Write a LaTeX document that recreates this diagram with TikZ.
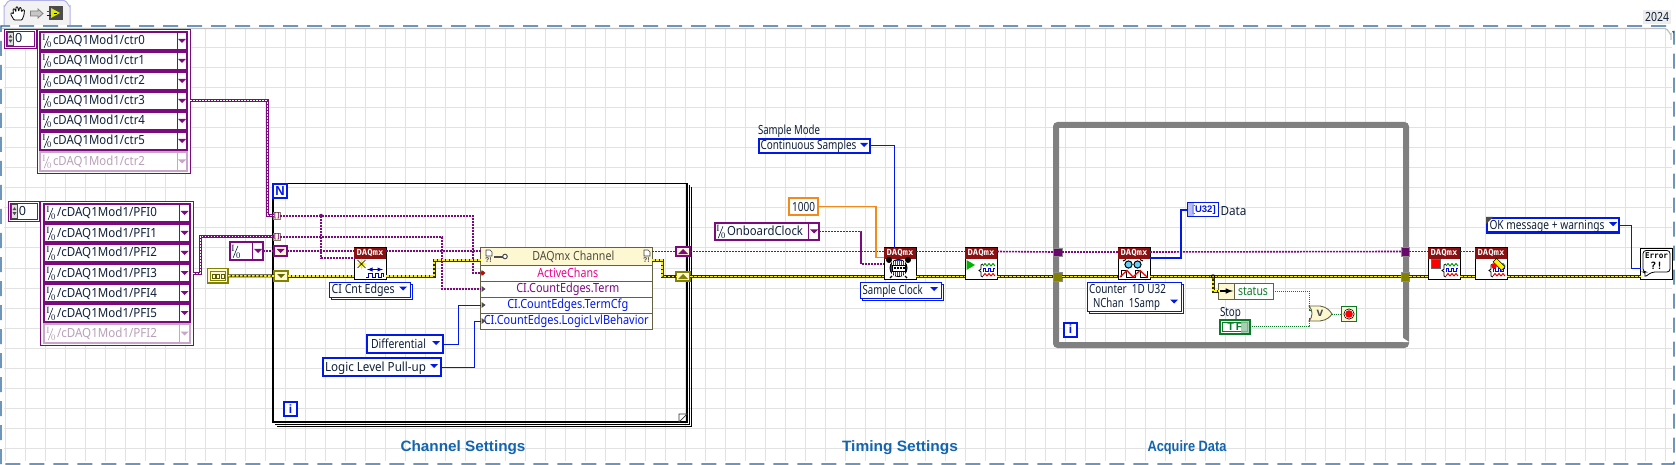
\documentclass[tikz,border=0pt]{standalone}
\usepackage{fontspec}
\usepackage{graphicx}
\setmainfont{Noto Sans}
\newfontfamily\serifio{Liberation Serif}
\newfontfamily\monoio{DejaVu Sans Mono}
\newfontfamily\boldf{Liberation Sans}
\usetikzlibrary{calc}
\definecolor{pur}{HTML}{7B0A7E}
\definecolor{ghostf}{HTML}{C9A6C9}
\definecolor{ghostt}{HTML}{B9A0B9}
\definecolor{enumb}{HTML}{0018E8}
\definecolor{oliv}{HTML}{828200}
\definecolor{pale}{HTML}{FDF8D2}
\definecolor{gridc}{HTML}{E2E2E2}
\definecolor{dashb}{HTML}{1F5F96}
\definecolor{wgray}{HTML}{808080}
\definecolor{oranw}{HTML}{F28A1C}
\definecolor{grnw}{HTML}{0A7A28}
\definecolor{titleb}{HTML}{1265AE}
\definecolor{daqr}{HTML}{8C1010}
\definecolor{txtd}{HTML}{10203A}
\definecolor{errd}{HTML}{2E2E00}
\newsavebox\fwb
\newcommand\fw[2]{\sbox\fwb{#2}\pgfmathsetmacro\fwr{#1/\the\wd\fwb}\scalebox{\fwr}[1]{\usebox\fwb}}
\tikzset{
  base/.style={inner sep=0pt,outer sep=0pt},
  txt/.style={inner sep=0pt,outer sep=0pt,text height=10pt,text depth=2pt,font=\fontsize{12.6}{14}\selectfont,text=txtd},
  taskw/.style={draw=pur,line width=1.6pt,dash pattern=on 2.2pt off .8pt},
  arrw/.style={draw=pur,line width=3pt,postaction={draw=white,line width=1pt,dash pattern=on 1.6pt off 1.4pt}},
  errw/.style={draw=errd,line width=3pt,postaction={draw=yellow,line width=1.6pt,dash pattern=on 2.5pt off 1.5pt}},
  enumw/.style={draw=enumb,line width=1pt},
  oranwire/.style={draw=oranw,line width=1.2pt},
  grnwire/.style={draw=grnw,line width=1pt,dash pattern=on 1pt off 1pt},
  u32w/.style={draw=enumb,line width=2.2pt},
  enumbox/.style={base,fill=white,draw=enumb,line width=2.2pt},
  thinbox/.style={base,fill=white,draw=enumb,line width=1pt},
  srg/.style={base,fill=pale,line width=2pt},
  tun/.style={base,fill=pale,draw=black!60!yellow!60!gray,line width=.9pt,text=pur,font=\boldf\bfseries\fontsize{6.5}{7}\selectfont},
  prow/.style={base,fill=white,draw=black!70!yellow,line width=1pt,font=\fontsize{12.6}{14}\selectfont},
  title/.style={base,font=\boldf\bfseries\fontsize{15}{16}\selectfont,text=titleb},
}
\newcommand\mk[7]{\node[#6,minimum width={#4-#2},minimum height={#5-#3}] (#1) at ({(#2+#4)/2},{(#3+#5)/2}) {#7};}
\newcommand\lt[4][]{\node[txt,anchor=west,#1] (#2t) at ($(#2.west)+(#3,0)$) {#4};}
\newcommand\dna[2][enumb]{\fill[#1] ($(#2)+(-4,-2)$) -- ++(8,0) -- ++(-4,4) -- cycle;}
\newcommand\upa[2][pur]{\fill[#1] ($(#2)+(-5,2.5)$) -- ++(10,0) -- ++(-5,-5) -- cycle;}
\newcommand\iosym{\makebox[11pt][l]{\serifio\rlap{\raisebox{4pt}{\hspace{.4pt}\fontsize{9.5}{9}\selectfont I}}\rlap{\raisebox{-3pt}{\hspace{1.8pt}\rotatebox{68}{\rule{13pt}{.6pt}}}}\rlap{\raisebox{-3pt}{\hspace{5pt}\fontsize{8.5}{9}\selectfont 0}}}}
\newcommand\idxbox[6]{%
  \mk{#1}{#2}{#3}{#4}{#5}{base,fill=white,draw=pur,line width=.9pt}{}
  \draw[pur,line width=.7pt] ($(#1.north west)+(1.5,1.5)$) rectangle ($(#1.south east)+(-1.5,-1.5)$);
  \draw[black!70,fill=black!12,line width=.4pt] ($(#1.north west)+(3,2.5)$) rectangle ($(#1.south west)+(9,-2.5)$);
  \fill[black!70] ($(#1.west)+(6,-1)$) -- ++(-2,0) -- ++(2,-3) -- ++(2,3) -- cycle;
  \fill[black!70] ($(#1.west)+(6,1)$) -- ++(-2,0) -- ++(2,3) -- ++(2,-3) -- cycle;
  \node[txt,anchor=west] (#1t) at ($(#1.west)+(10.5,0)$) {#6};
}
\newcommand\daq[4]{%
  \mk{#1}{#2}{#3}{#2+32}{#3+31.5}{base,fill=white,draw=black,line width=1pt}{}
  \mk{#1h}{#2+.5}{#3+.5}{#2+31.5}{#3+10}{base,fill=daqr,text=white,font=\monoio\bfseries\fontsize{8.4}{8}\selectfont}{\fw{27}{DAQmx}}
  \begin{scope}[shift={(#2,#3)}]#4\end{scope}
}
\newcommand\wavebr{%
  \draw[black,line width=.8pt] (18,16) -- (16,17) -- (16,21) -- (14,22.5) -- (16,24) -- (16,28) -- (18,29);
  \draw[green!60!black,line width=.9pt] (18,18) -- (20,15.5) -- (22,18) -- (24,15.5) -- (26,18) -- (28,15.5) -- (30,18);
  \draw[blue,line width=.9pt] (18,23.5) -- (18,20.5) -- (20.5,20.5) -- (20.5,23.5) -- (23,23.5) -- (23,20.5) -- (25.5,20.5) -- (25.5,23.5) -- (28,23.5) -- (28,20.5) -- (30,20.5);
  \draw[red!90!black,line width=.9pt] (18,28) -- (20,25.5) -- (22,28) -- (24,25.5) -- (26,28) -- (28,25.5) -- (30,28);
}
\begin{document}
\begin{tikzpicture}[x=1pt,y=-1pt]
\useasboundingbox (0,0) rectangle (1676,465);
\fill[white] (0,0) rectangle (1676,465);
% grid
\foreach \gx in {5,25,...,1665} {\draw[gridc,line width=1pt] (\gx,29) -- (\gx,461);}
\foreach \gy in {48,68,...,448} {\draw[gridc,line width=1pt] (4,\gy) -- (1672,\gy);}
\draw[black!25,line width=1.2pt] (2,28.5) -- (1665,28.5) to[out=0,in=-90] (1671,34) -- (1671,40);
% border
\draw[dashb,line width=1.2pt,dash pattern=on 15pt off 9pt] (1,464) -- (1,26) -- (1668,26) to[out=0,in=-90] (1674,32) -- (1674,464) -- cycle;
% version
\mk{ver}{1643}{10}{1671}{24}{base,fill=black!7,font=\fontsize{12.6}{14}\selectfont,text=txtd}{\fw{24}{2024}}
% toolbar
\draw[black!30!blue!30!white,line width=1pt,fill=black!5] (4,25) -- (4,6) to[out=-90,in=180] (10,0.5) -- (64,0.5) to[out=0,in=-90] (70,6) -- (70,25);
\draw[black,line width=.8pt,fill=white,line join=round,rounded corners=.8pt] (14,20) -- (10.5,14) -- (11.5,12.5) -- (13.5,14) -- (13,9) -- (14.5,8.5) -- (16,12) -- (16,7) -- (17.5,6.5) -- (18.8,11.5) -- (19.5,7.5) -- (21,7.5) -- (21.5,12) -- (23,9.5) -- (24.5,10) -- (24,15) -- (22,20) -- cycle;
\draw[black!50,fill=black!22,line width=.8pt] (30.5,11) -- (38,11) -- (38,9) -- (43,13.5) -- (38,18) -- (38,16) -- (30.5,16) -- cycle;
\fill[black!70] (49,6) rectangle (63,20);
\fill[yellow!85!green] (51,8) -- (60,13) -- (51,18) -- cycle;
\draw[red,line width=.7pt] (46.5,11) -- (51,11);
\draw[blue,line width=.7pt] (46.5,15.5) -- (51,15.5);
\draw[black,line width=.5pt] (54,13) -- (57,13);
%
% ARRAY 1
\idxbox{ia}{4.5}{29.5}{36}{48}{0}
\mk{fa}{37}{29.5}{190}{173}{base,fill=white,draw=pur,line width=.9pt}{}
\mk{fai}{39}{31}{188}{151}{base,fill=pur}{}
\mk{fag}{39}{151}{188}{172}{base,fill=ghostf}{}
\foreach \i/\t in {0/0,1/1,2/2,3/3,4/4,5/5} {
  \pgfmathsetmacro\ya{33+20*\i}\pgfmathsetmacro\yb{49+20*\i}
  \mk{c\i}{41}{\ya}{177}{\yb}{base,fill=white}{}
  \mk{cq\i}{178}{\ya}{186}{\yb}{base,fill=white}{}
  \lt{c\i}{1}{\iosym\fw{92}{cDAQ1Mod1/ctr\t}}
  \dna[pur]{cq\i}
}
\mk{c6}{41}{153}{177}{170}{base,fill=white}{}
\mk{cq6}{178}{153}{186}{170}{base,fill=white}{}
\lt[text=ghostt]{c6}{1}{\iosym\fw{92}{cDAQ1Mod1/ctr2}}
\dna[ghostf]{cq6}
% ARRAY 2
\idxbox{ib}{8.5}{201.5}{39}{221}{0}
\mk{fb}{40.5}{201}{193}{345}{base,fill=white,draw=pur,line width=.9pt}{}
\mk{fbi}{42.5}{203}{191}{323}{base,fill=pur}{}
\mk{fbg}{42.5}{323}{191}{344}{base,fill=ghostf}{}
\foreach \i/\t in {0/0,1/1,2/2,3/3,4/4,5/5} {
  \pgfmathsetmacro\ya{205+20*\i}\pgfmathsetmacro\yb{221+20*\i}
  \mk{d\i}{45}{\ya}{179}{\yb}{base,fill=white}{}
  \mk{dq\i}{180}{\ya}{189}{\yb}{base,fill=white}{}
  \lt{d\i}{1}{\iosym\fw{100}{/cDAQ1Mod1/PFI\t}}
  \dna[pur]{dq\i}
}
\mk{d6}{45}{325}{179}{342}{base,fill=white}{}
\mk{dq6}{180}{325}{189}{342}{base,fill=white}{}
\lt[text=ghostt]{d6}{1}{\iosym\fw{100}{/cDAQ1Mod1/PFI2}}
\dna[ghostf]{dq6}
%
% FOR LOOP
\mk{fl}{273}{183.5}{687}{422}{base,draw=black,line width=1.1pt}{}
\draw[black,line width=.8pt] (689,185) -- (689,424) -- (275,424);
\draw[black,line width=.8pt] (691,187) -- (691,426) -- (277,426);
\draw[black!80,fill=white,line width=.7pt] (679,422) -- (679,414) -- (687,414) -- cycle;
\mk{nbox}{273}{184}{287}{198}{base,fill=white,draw=enumb,line width=2pt,text=enumb,font=\boldf\bfseries\fontsize{13}{13}\selectfont}{N}
\mk{ibx}{284}{402}{297}{415.5}{base,fill=white,draw=enumb,line width=2pt,text=enumb,font=\boldf\bfseries\fontsize{12}{12}\selectfont}{i}
% constants left of loop
\mk{ioc}{230}{242}{263}{260}{base,fill=white,draw=pur,line width=2pt}{}
\draw[pur,line width=1pt] (252.5,242) -- (252.5,260);
\lt{ioc}{1}{\iosym}
\dna[pur]{$(ioc.east)+(-5,0)$}
\mk{ecl}{207.5}{268.5}{228}{283}{base,fill=pale,draw=oliv,line width=1.5pt}{}
\draw[oliv,line width=.8pt] (210,271) rectangle (225.5,280.5);
\draw[oliv!70!black,line width=.8pt] (212,274) rectangle (215,278);
\draw[oliv!70!black,line width=.8pt] (216.5,274) rectangle (219.5,278);
\draw[oliv!70!black,line width=.8pt] (221,274) rectangle (224,278);
% tunnels, shift registers
\mk{tn1}{273.5}{212.5}{280}{219}{tun}{[\,]}
\mk{tn2}{273.5}{233.5}{280}{240}{tun}{[\,]}
\mk{sr1}{274}{246}{287}{256}{srg,draw=pur}{}
\dna[pur]{$(sr1)+(0,0)$}
\mk{sr2}{274}{271}{288}{281}{srg,draw=oliv}{}
\dna[oliv!80!black]{$(sr2)+(0,0)$}
\mk{srr1}{676}{247}{690}{256}{srg,draw=pur}{}
\upa[pur]{srr1}
\mk{srr2}{676}{272}{690}{281}{srg,draw=oliv}{}
\upa[oliv]{srr2}
% create channel
\daq{cr}{354}{248}{
  \fill[yellow] (7.5,10.5) -- (9,15) -- (13,16) -- (9,17) -- (7.5,22) -- (6,17) -- (2,16) -- (6,15) -- cycle;
  \draw[black,line width=.6pt] (3.5,12) -- (11.5,20) (11.5,12) -- (3.5,20);
  \draw[blue!70!black,line width=.9pt,<->,>=latex] (13,21.5) -- (29,21.5);
  \draw[blue!70!black,line width=.9pt] (12,29) -- (14,29) -- (14,25) -- (18,25) -- (18,29) -- (21,29) -- (21,25) -- (24,25) -- (24,29) -- (27,29) -- (27,25) -- (29,25) -- (29,29);
}
\mk{crs}{331}{284}{412}{299}{thinbox}{}
\mk{crm}{329}{282}{410}{297}{thinbox}{}
\lt{crm}{2.7}{\fw{63}{CI Cnt Edges}}
\dna{$(crm.east)+(-7,-1)$}
% enums in loop
\mk{dif}{367}{335}{443}{353}{enumbox}{}
\lt{dif}{4}{\fw{55}{Differential}}
\dna{$(dif.east)+(-7,-1)$}
\mk{lgc}{323}{358}{441}{376}{enumbox}{}
\lt{lgc}{2}{\fw{101}{Logic Level Pull-up}}
\dna{$(lgc.east)+(-7,-1)$}
% property node
\mk{ph}{480.5}{248}{652}{265}{base,fill=pale,draw=black!70!yellow,line width=1pt}{}
\node[txt,text=black!65!yellow!60!black] (pht) at ($(ph)+(7,0)$) {\fw{82}{DAQmx Channel}};
\draw[black!75,line width=.6pt,fill=white] (486,250) -- (490,250) -- (492,252) -- (492,256) -- (486,256) -- cycle;
\draw[black!75,line width=.6pt,fill=white] (644,250) -- (648,250) -- (650,252) -- (650,256) -- (644,256) -- cycle;
\node[base,font=\boldf\bfseries\fontsize{7}{7}\selectfont,text=black!70] (phq) at (488.5,260.5) {?!};
\node[base,font=\boldf\bfseries\fontsize{7}{7}\selectfont,text=black!70] (phr) at (646.5,260.5) {?!};
\draw[black!70,line width=2pt] (494,256.5) -- (503,256.5);
\draw[black!70,line width=1pt,fill=white] (505,256.5) circle (2.3pt);
\mk{pa}{480.5}{265}{652}{281}{prow,text=magenta}{\hspace{3pt}\fw{61}{ActiveChans}}
\mk{pb}{480.5}{281}{652}{297}{prow,text=pur}{\hspace{3pt}\fw{103}{CI.CountEdges.Term}}
\mk{pc}{480.5}{297}{652}{313}{prow,text=enumb}{\hspace{3pt}\fw{121}{CI.CountEdges.TermCfg}}
\mk{pd}{480.5}{313}{652}{329}{prow,text=enumb}{\fw{165}{CI.CountEdges.LogicLvlBehavior}}
\foreach \r in {pa,pb,pc,pd} {\fill[black!70] ($(\r.west)+(1,-3)$) -- ++(4,3) -- ++(-4,3) -- cycle;}
\fill[red!85!black] ($(pa.west)+(2,0)$) circle (2pt);
% timing constants
\node[txt,anchor=west] (smt) at (758,131) {\fw{62}{Sample Mode}};
\mk{smo}{759}{139}{870}{153}{enumbox}{}
\lt{smo}{1.5}{\fw{96}{Continuous Samples}}
\dna{$(smo.east)+(-6,-1)$}
\mk{rat}{789}{198}{818}{215}{base,fill=white,draw=oranw,line width=2.4pt,font=\fontsize{12.6}{14}\selectfont,text=txtd}{\fw{23}{1000}}
\mk{clk}{715}{223}{819}{240}{base,fill=white,draw=pur,line width=2pt}{}
\draw[pur,line width=1pt] (808.5,223) -- (808.5,240);
\lt{clk}{1}{\iosym\fw{76}{OnboardClock}}
\dna[pur]{$(clk.east)+(-5,0)$}
\daq{tm}{884}{248}{
  \fill[black] (5,12) circle (3pt) (24,12) circle (3pt);
  \draw[black,line width=1pt,fill=blue!70!cyan] (14.5,20) circle (8.5pt);
  \foreach \a in {-6,-4,...,6} {\draw[white,line width=.4pt] (14.5+\a,12.5) -- (14.5+\a,27.5);}
  \draw[black,line width=.8pt,fill=white] (8,17) rectangle (21,23);
  \foreach \a in {10,13,16,19} {\fill[black] (\a,19) rectangle +(1.5,2);}
  \draw[black,line width=1.2pt] (8,28) -- (6,30) (21,28) -- (23,30);
}
\mk{tms}{862}{284}{943}{300}{thinbox}{}
\mk{tmm}{860}{282}{941}{298}{thinbox}{}
\lt{tmm}{2.7}{\fw{60}{Sample Clock}}
\dna{$(tmm.east)+(-7,-1)$}
\daq{st}{965}{248}{
  \fill[green!70!black] (1.5,12) -- (10,17) -- (1.5,22) -- cycle;
  \wavebr
}
% WHILE LOOP
\mk{wl}{1056}{125}{1406}{345}{base,draw=wgray,line width=6pt,rounded corners=2pt}{}
\fill[white] (1403,338) -- (1409,342) -- (1403,342) -- cycle;
\mk{wi}{1064}{322.5}{1077}{336.5}{base,fill=white,draw=enumb,line width=2pt,text=enumb,font=\boldf\bfseries\fontsize{12}{12}\selectfont}{i}
\mk{tl1}{1053}{248}{1062}{256}{base,fill=pur!85!black,draw=black!45,line width=.6pt}{}
\mk{tl2}{1053}{272}{1062}{281}{base,fill=oliv,draw=black!45,line width=.6pt}{}
\mk{tr1}{1401}{247}{1409}{256}{base,fill=pur!85!black,draw=black!45,line width=.6pt}{}
\mk{tr2}{1401}{272}{1409}{281}{base,fill=oliv,draw=black!45,line width=.6pt}{}
\daq{rd}{1118}{248}{
  \draw[black,line width=1pt] (5,13) -- (8,11.5) (25,13) -- (22,11.5);
  \draw[black,line width=1pt,fill=cyan!60] (10.5,16.5) circle (3.6pt);
  \draw[black,line width=1pt,fill=cyan!60] (19.5,16.5) circle (3.6pt);
  \draw[black,line width=.7pt] (3,29) -- (3,22.5) -- (8,22.5) -- (8,29) -- (17,29) -- (17,22.5) -- (22,22.5) -- (22,29) -- (29,29) -- (29,22.5);
  \draw[red,line width=1.3pt] (2,29) -- (9,22.5) -- (15,29) -- (22,22.5) -- (29,29);
}
\mk{rds}{1089}{284}{1183}{313}{thinbox}{}
\mk{rdm}{1087}{282}{1181}{311}{thinbox}{}
\node[txt,anchor=west] (rdt) at (1089,289.5) {\fw{77}{Counter~ 1D U32}};
\node[txt,anchor=west] (rdu) at (1093,303) {\fw{67}{NChan~ 1Samp}};
\dna{$(rdm.east)+(-7,5)$}
% U32 indicator
\mk{u32}{1187.5}{202.5}{1218.5}{217}{base,fill=white,draw=enumb,line width=1pt,text=enumb,font=\boldf\bfseries\fontsize{9.5}{9}\selectfont}{\,[U32]}
\fill[enumb!35,opacity=.8] (1188,203) rectangle (1193.5,216.5);
\node[txt,anchor=west] (dat) at (1220.5,212) {\fw{26}{Data}};
% status
\mk{ub}{1218.5}{283.5}{1273}{299}{base,fill=white,draw=black!70!yellow,line width=1pt}{}
\fill[pale] (1219,284) rectangle (1234,298.5);
\draw[black!70!yellow,line width=1pt] (1234,283.5) -- (1234,299);
\draw[black,line width=1.5pt,-latex] (1220,291) -- (1233,291);
\node[txt,text=grnw,anchor=west] (ust) at (1238,291) {\fw{30}{status}};
\node[txt,anchor=west] (stt) at (1220,312) {\fw{21}{Stop}};
\mk{tf}{1220}{320}{1250}{333.5}{base,fill=white,draw=grnw,line width=2pt,text=grnw,font=\boldf\bfseries\fontsize{11}{11}\selectfont}{T\,F}
\draw[grnw,line width=.7pt] (1222.5,322.5) rectangle (1247.5,331);
\fill[grnw!45,opacity=.8] (1241,321) rectangle (1249,332.5);
\draw[black!70!yellow,fill=pale,line width=.9pt] (1309,306) -- (1320,306) .. controls (1327,307) and (1330,311) .. (1332,314) .. controls (1330,317) and (1327,320) .. (1320,321) -- (1309,321) .. controls (1313,317) and (1313,310) .. (1309,306) -- cycle;
\node[base,font=\boldf\bfseries\fontsize{12}{12}\selectfont,text=black!70] (orv) at (1320,313) {v};
\coordinate (orA) at (1311,310);
\coordinate (orB) at (1311,318);
\coordinate (orO) at (1332,314);
\mk{stp}{1341.5}{306.5}{1356.5}{321.5}{base,fill=pale,draw=grnw,line width=1pt}{}
\fill[black] (stp) circle (5.5pt);
\fill[white] (stp) circle (4.7pt);
\fill[red] (stp) circle (3.8pt);
% stop, clear
\daq{sp}{1428}{248}{
  \fill[red] (3,11) rectangle (12,20);
  \draw[black!60,line width=.5pt] (3,11) rectangle (12,20);
  \wavebr
}
\daq{cl}{1475}{248}{
  \wavebr
  \draw[black,line width=.5pt,fill=yellow,rotate around={-45:(23,16)}] (18,13) rectangle (30,18);
  \fill[red] (19,18) circle (2.8pt);
}
% error handler
\mk{okm}{1487}{218}{1619}{232.5}{enumbox}{}
\fill[black!70] (1486,217) -- (1493,217) -- (1486,224) -- cycle;
\lt{okm}{2.5}{\fw{115}{OK message + warnings}}
\dna{$(okm.east)+(-6,-1)$}
\mk{er}{1640.5}{248.5}{1672}{279}{base,fill=white,draw=black,line width=1pt}{}
\draw[black,line width=.8pt,rounded corners=3pt,fill=white] (1643,250.5) -- (1670,250.5) -- (1670,272) -- (1652,272) -- (1644,277.5) -- (1646,272) -- (1643,272) -- cycle;
\node[base,font=\monoio\bfseries\fontsize{8}{8}\selectfont] (ert) at (1656.5,256) {\fw{23}{Error}};
\node[base,font=\monoio\bfseries\fontsize{10}{10}\selectfont] (erq) at (1656.5,265.5) {?!};
% titles
\node[title] (t1) at (463,447.5) {\fw{125}{Channel Settings}};
\node[title] (t2) at (900,448) {\fw{116}{Timing Settings}};
\node[title] (t3) at (1187,448) {\fw{79}{Acquire Data}};
%
% WIRES
\draw[arrw] (fa.east |- c3) -- ++(77,0) |- (tn1.west);
\draw[arrw] (fb.east |- d3) -- ++(7,0) |- (tn2.west);
\draw[taskw] (ioc.east) -- (sr1.west);
\draw[errw] (ecl.east) -- (sr2.west);
\draw[taskw] (tn1.east) -- ++(193,0) |- (pa.west);
\coordinate (j1) at ($(tn1.east)+(41,0)$);
\draw[taskw] (j1) |- ($(cr.west)+(0,-5.5)$);
\fill[pur] (j1) circle (2pt);
\draw[taskw] (tn2.east) -- ++(162,0) |- (pb.west);
\draw[taskw] (sr1.east) -- (cr.west |- sr1.east);
\draw[taskw] (cr.east |- sr1.east) -- (ph.west |- sr1.east);
\draw[errw] (sr2.east) -- (cr.west |- sr2.east);
\draw[errw] (cr.east |- sr2.east) -- ++(48,0) |- ($(ph.west)+(0,3.5)$);
\draw[taskw] (ph.east |- srr1.west) -- (srr1.west);
\draw[errw] ($(ph.east)+(0,3.5)$) -- ++(10,0) |- (srr2.west);
\draw[enumw] (dif.east) -- ++(15,0) |- (pc.west);
\draw[enumw] (lgc.east) -- ++(33,0) |- (pd.west);
\draw[taskw] (srr1.east) -- (tm.west |- srr1.east);
\draw[errw] (srr2.east) -- (tm.west |- srr2.east);
\draw[taskw] (tm.east |- srr1.east) -- (st.west |- srr1.east);
\draw[errw] (tm.east |- srr2.east) -- (st.west |- srr2.east);
\draw[taskw] (st.east |- srr1.east) -- (tl1.west);
\draw[errw] (st.east |- srr2.east) -- (tl2.west);
\draw[enumw] (smo.east) -| ($(tm.north)+(-6,0)$);
\draw[oranwire] (rat.east) -- ++(58,0) |- ($(tm.west)+(0,-6)$);
\draw[taskw] (clk.east) -- ++(42,0) |- (tm.west);
\draw[taskw] (tl1.east) -- (rd.west |- tl1.east);
\draw[errw] (tl2.east) -- (rd.west |- tl2.east);
\draw[taskw] (rd.east |- tl1.east) -- (tr1.west);
\draw[errw] (rd.east |- tl2.east) -- (tr2.west);
\draw[u32w] ($(rd.east)+(0,-5.5)$) -- ++(31,0) |- (u32.west);
\coordinate (j2) at ($(rd.east |- tl2.east)+(63,0)$);
\draw[errw] (j2) |- (ub.west);
\fill[black] (j2) circle (2.2pt);
\fill[yellow!90!black] (j2) circle (1pt);
\draw[grnwire] (ub.east) -- ++(36,0) |- (orA);
\draw[grnwire] (tf.east) -- ++(59,0) |- (orB);
\draw[grnwire] (orO) -- (stp.west);
\draw[taskw] (tr1.east) -- (sp.west |- tr1.east);
\draw[errw] (tr2.east) -- (sp.west |- tr2.east);
\draw[taskw] (sp.east |- tr1.east) -- (cl.west |- tr1.east);
\draw[errw] (sp.east |- tr2.east) -- (cl.west |- tr2.east);
\draw[errw] (cl.east |- tr2.east) -- (er.west |- tr2.east);
\draw[enumw] (okm.east) -- ++(12,0) |- ($(er.west)+(0,4.5)$);
\end{tikzpicture}
\end{document}
